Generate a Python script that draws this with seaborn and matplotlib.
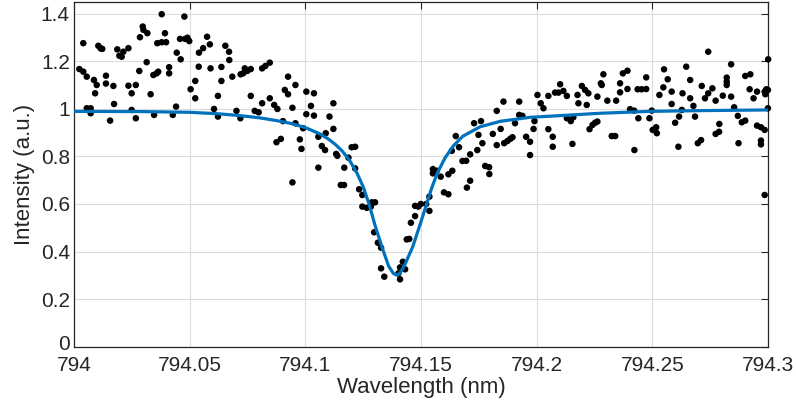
import numpy as np
import pandas as pd
import matplotlib
matplotlib.use("Agg")
import matplotlib.pyplot as plt
import matplotlib.transforms as mtransforms
import seaborn as sns

wavelength = [
    794.0040, 794.0023, 794.0040, 794.0055, 794.0086, 794.0098, 794.0091, 794.0105, 794.0115, 794.0122,
    794.0138, 794.0138, 794.0170, 794.0173, 794.0055, 794.0072, 794.0072, 794.0156, 794.0187, 794.0196,
    794.0206, 794.0213, 794.0235, 794.0235, 794.0249, 794.0267, 794.0249, 794.0267, 794.0282, 794.0285,
    794.0297, 794.0300, 794.0317, 794.0314, 794.0331, 794.0346, 794.0343, 794.0357, 794.0364, 794.0379,
    794.0360, 794.0379, 794.0393, 794.0398, 794.0411, 794.0411, 794.0427, 794.0441, 794.0444, 794.0461,
    794.0477, 794.0458, 794.0480, 794.0490, 794.0498, 794.0504,
    794.0524, 794.0524, 794.0539, 794.0540, 794.0558, 794.0575, 794.0587, 794.0590, 794.0605, 794.0622,
    794.0622, 794.0637, 794.0637, 794.0654, 794.0670, 794.0671, 794.0684, 794.0702, 794.0719, 794.0720,
    794.0731, 794.0738, 794.0749, 794.0764, 794.0764, 794.0781, 794.0798, 794.0813, 794.0813, 794.0827,
    794.0846, 794.0846, 794.0865, 794.0879, 794.0875, 794.0894, 794.0903, 794.0911, 794.0925, 794.0925,
    794.0944, 794.0957, 794.0957, 794.0944, 794.0976, 794.0983, 794.1004, 794.1004, 794.0990,
    794.1037, 794.1024, 794.1037, 794.1056, 794.1056, 794.1071, 794.1085, 794.1088, 794.1104, 794.1121,
    794.1121, 794.1133, 794.1138, 794.1153, 794.1167, 794.1168, 794.1186, 794.1200, 794.1215, 794.1215,
    794.1232, 794.1246, 794.1246, 794.1265, 794.1283, 794.1287, 794.1301, 794.1297, 794.1313, 794.1327,
    794.1327, 794.1341, 794.1402, 794.1409, 794.1409, 794.1421, 794.1431, 794.1438, 794.1449, 794.1456,
    794.1474, 794.1474, 794.1488, 794.1499,
    794.1522, 794.1536, 794.1536, 794.1551, 794.1551, 794.1568, 794.1585, 794.1599, 794.1618, 794.1618,
    794.1635, 794.1633, 794.1650, 794.1664, 794.1679, 794.1695, 794.1698, 794.1712, 794.1712, 794.1729,
    794.1743, 794.1748, 794.1759, 794.1765, 794.1777, 794.1794, 794.1795, 794.1810, 794.1827, 794.1827,
    794.1844, 794.1856, 794.1859, 794.1873, 794.1885, 794.1895, 794.1906, 794.1924, 794.1924, 794.1938,
    794.1954, 794.1971, 794.1971, 794.1986, 794.1990, 794.2003, 794.2017, 794.2029,
    794.2050, 794.2069, 794.2069, 794.2050, 794.2079, 794.2094, 794.2101, 794.2115, 794.2130, 794.2130,
    794.2147, 794.2158, 794.2154, 794.2176, 794.2180, 794.2195, 794.2209, 794.2223, 794.2216, 794.2228,
    794.2241, 794.2252, 794.2262, 794.2262, 794.2277, 794.2288, 794.2281, 794.2305, 794.2324, 794.2339,
    794.2343, 794.2360, 794.2360, 794.2372, 794.2392, 794.2392, 794.2403, 794.2421, 794.2422, 794.2436,
    794.2453, 794.2473, 794.2439, 794.2473, 794.2487, 794.2497, 794.2501, 794.2516, 794.2519, 794.2530,
    794.2547, 794.2550, 794.2566, 794.2583, 794.2583, 794.2598, 794.2612, 794.2615, 794.2627, 794.2630,
    794.2646, 794.2663, 794.2663, 794.2677, 794.2684, 794.2696, 794.2710, 794.2713, 794.2727, 794.2741,
    794.2759, 794.2741, 794.2773, 794.2773, 794.2788, 794.2789, 794.2804, 794.2821, 794.2821, 794.2821,
    794.2840, 794.2840, 794.2853, 794.2869, 794.2872, 794.2886, 794.2901, 794.2901, 794.2923, 794.2920,
    794.2937, 794.2952, 794.2952, 794.2969, 794.2985, 794.2969, 794.2969, 794.2985, 794.2992, 794.2999,
    794.2988, 794.2999, 794.3000, 794.2985,
]
intensity = [
    1.277, 1.168, 1.157, 1.136, 1.122, 1.101, 1.066, 1.266, 1.255, 1.253,
    1.140, 1.107, 1.097, 1.021, 1.003, 1.003, 0.982, 0.951, 1.251, 1.224,
    1.220, 1.241, 1.256, 1.098, 1.066, 1.101, 0.996, 0.961, 1.160, 1.302,
    1.347, 1.333, 1.319, 1.197, 1.062, 0.975, 1.143, 1.150, 1.157, 1.399,
    1.277, 1.281, 1.319, 1.281, 1.176, 1.150, 0.975, 1.010, 1.237, 1.209,
    1.389, 1.295, 1.295, 1.300, 1.286, 1.083,
    1.118, 1.045, 1.178, 1.237, 1.256, 1.304, 1.272, 1.171, 1.000, 1.055,
    0.968, 1.177, 1.118, 1.266, 1.241, 1.206, 1.136, 0.992, 0.961, 1.146,
    1.150, 1.171, 1.160, 1.168, 1.055, 0.992, 0.986, 1.024, 1.171, 1.181,
    1.195, 1.045, 1.017, 1.000, 0.860, 0.874, 0.949, 1.080, 1.062, 1.136,
    1.005, 1.101, 0.940, 0.691, 0.872, 0.832, 1.073, 0.978, 0.919,
    1.066, 1.013, 0.972, 0.883, 0.753, 0.844, 0.827, 0.898, 0.968, 1.024,
    0.916, 0.811, 0.803, 0.680, 0.680, 0.753, 0.795, 0.839, 0.841, 0.750,
    0.662, 0.638, 0.589, 0.584, 0.589, 0.607, 0.607, 0.481, 0.437, 0.416,
    0.329, 0.294, 0.308, 0.283, 0.333, 0.357, 0.325, 0.451, 0.453, 0.521,
    0.549, 0.592, 0.589, 0.600,
    0.600, 0.631, 0.571, 0.747, 0.729, 0.740, 0.715, 0.649, 0.641, 0.725,
    0.740, 0.824, 0.886, 0.839, 0.781, 0.782, 0.669, 0.698, 0.809, 0.940,
    0.827, 0.891, 0.949, 0.856, 0.760, 0.755, 0.726, 0.895, 0.992, 0.848,
    0.916, 1.031, 0.856, 0.865, 0.874, 0.881, 0.940, 1.031, 0.975, 0.971,
    0.883, 0.862, 0.806, 0.916, 0.949, 1.059, 1.024, 1.003,
    0.915, 0.883, 0.841, 1.055, 1.069, 1.069, 1.104, 1.076, 1.055, 0.961,
    0.949, 0.965, 0.853, 1.059, 1.024, 1.097, 1.080, 1.066, 1.017, 0.915,
    0.933, 0.942, 0.947, 1.052, 1.108, 1.146, 1.101, 1.035, 0.886, 0.886,
    1.035, 1.108, 1.070, 1.150, 1.161, 1.084, 0.999, 0.993, 0.827, 1.083,
    1.083, 1.084, 0.961, 1.133, 0.961, 0.993, 0.912, 0.923, 0.898, 1.059,
    1.091, 1.167, 1.125, 1.073, 1.021, 0.942, 0.841, 0.968, 0.996, 1.066,
    1.178, 1.122, 1.045, 1.013, 0.968, 0.856, 0.869, 1.097, 1.045, 1.066,
    1.087, 1.241, 1.035, 0.895, 0.904, 0.937, 1.056, 1.132, 1.101, 1.115,
    1.188, 1.052, 1.007, 0.971, 0.856, 0.944, 0.951, 1.139, 1.146, 1.083,
    1.045, 1.073, 0.930, 0.923, 0.912, 0.867, 0.851, 1.073, 1.083, 1.080,
    1.062, 1.003, 1.209, 0.638,
]

# fitted line
fit_wavelength = [
    794.0000, 794.0300, 794.0501, 794.0620, 794.0718, 794.0800, 794.0870, 794.0934, 794.0999, 794.1063,
    794.1100, 794.1128, 794.1160, 794.1190, 794.1223, 794.1250, 794.1275, 794.1301, 794.1334, 794.1360,
    794.1380, 794.1395, 794.1410, 794.1430, 794.1464, 794.1496, 794.1524, 794.1545, 794.1570, 794.1604,
    794.1640, 794.1680, 794.1755, 794.1842, 794.1971, 794.2101, 794.2274, 794.2490, 794.2706, 794.3000,
]
fit_intensity = [
    0.990, 0.989, 0.986, 0.980, 0.972, 0.963, 0.952, 0.940, 0.922, 0.895,
    0.873, 0.852, 0.822, 0.785, 0.730, 0.672, 0.600, 0.510, 0.410, 0.338,
    0.308, 0.300, 0.310, 0.345, 0.420, 0.515, 0.600, 0.665, 0.730, 0.795,
    0.845, 0.885, 0.925, 0.948, 0.965, 0.972, 0.982, 0.990, 0.993, 0.996,
]

x_ticks = [794, 794.05, 794.1, 794.15, 794.2, 794.25, 794.3]
x_tick_labels = ["794", "794.05", "794.1", "794.15", "794.2", "794.25", "794.3"]
y_ticks = [0, 0.2, 0.4, 0.6, 0.8, 1.0, 1.2, 1.4]
y_tick_labels = ["0", "0.2", "0.4", "0.6", "0.8", "1", "1.2", "1.4"]

sns.set_style("white")
plt.rcParams["font.family"] = ["Liberation Sans", "DejaVu Sans"]

dark = "#262626"
data = pd.DataFrame({"wavelength": wavelength, "intensity": intensity})
fit = pd.DataFrame({"wavelength": fit_wavelength, "intensity": fit_intensity})

fig = plt.figure(figsize=(7.96, 4.16), dpi=100)
ax = fig.add_axes([0.093, 0.167, 0.872, 0.828])

sns.scatterplot(data=data, x="wavelength", y="intensity", color="black",
                s=22, edgecolor="none", ax=ax, clip_on=False, zorder=3)
sns.lineplot(data=fit, x="wavelength", y="intensity", color="#0072BD",
             linewidth=2.3, ax=ax, zorder=4, sort=False)

ax.set_xlim(794, 794.3)
ax.set_ylim(0, 1.45)
ax.set_xticks(x_ticks)
ax.set_xticklabels(x_tick_labels)
ax.set_yticks(y_ticks)
ax.set_yticklabels(y_tick_labels)
ax.set_xlabel("Wavelength (nm)", fontsize=16, color=dark, labelpad=1)
ax.set_ylabel("Intensity (a.u.)", fontsize=16, color=dark, labelpad=4)

ax.grid(True, color="#dcdcdc", linewidth=0.8)
ax.set_axisbelow(True)
ax.tick_params(direction="in", length=5, width=0.8, colors=dark,
               labelsize=15, top=True, right=True)
ax.tick_params(axis="x", pad=7)
ax.tick_params(axis="y", pad=3)
# nudge the "0" label up a few points so it clears the "794" below it
zero_label = ax.get_yticklabels()[0]
zero_label.set_transform(zero_label.get_transform()
                         + mtransforms.ScaledTranslation(0, 3 / 72, fig.dpi_scale_trans))
for spine in ax.spines.values():
    spine.set_color(dark)
    spine.set_linewidth(0.9)

fig.savefig("out.png", dpi=100)
